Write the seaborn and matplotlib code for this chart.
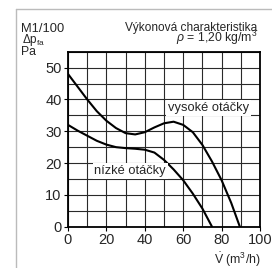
import numpy as np
import pandas as pd
import seaborn as sns
import matplotlib.pyplot as plt
from matplotlib.lines import Line2D

# curve data (flow m3/h, pressure Pa)
flow_high = [0, 5, 10, 15, 20, 25, 30, 35, 40, 45, 50, 55, 60, 65, 70, 75, 80, 85, 89.5]
pres_high = [48, 44, 40, 36.3, 33.3, 31, 29.4, 29, 29.7, 31.2, 32.5, 33, 32, 29.7, 25.7, 20.5, 14.6, 7.5, 0]
flow_low = [0, 5, 10, 15, 20, 25, 30, 35, 40, 45, 50, 55, 60, 65, 70, 75]
pres_low = [32, 30.2, 28.6, 27, 25.8, 25, 24.7, 24.5, 24.2, 23.3, 21, 18, 14.6, 10.4, 5.7, 0]
x_ticks = [0, 20, 40, 60, 80, 100]
y_ticks = [0, 10, 20, 30, 40, 50]

sns.set_style("white")
plt.rcParams['font.family'] = ['Liberation Sans', 'DejaVu Sans']
plt.rcParams['mathtext.fontset'] = 'custom'
plt.rcParams['mathtext.rm'] = 'Liberation Sans'
plt.rcParams['mathtext.it'] = 'Liberation Sans:italic'

df_high = pd.DataFrame({'flow': flow_high, 'pressure': pres_high})
df_low = pd.DataFrame({'flow': flow_low, 'pressure': pres_low})

W, H = 272, 268
fig = plt.figure(figsize=(W / 100, H / 100), dpi=100)
ax = fig.add_axes([68 / W, 1 - 226.7 / H, 192 / W, 175 / H])

sns.lineplot(data=df_high, x='flow', y='pressure', color='black', lw=1.5, ax=ax, zorder=3)
sns.lineplot(data=df_low, x='flow', y='pressure', color='black', lw=1.5, ax=ax, zorder=3)

ax.set_xlim(0, 100)
ax.set_ylim(0, 55)
ax.set_xticks(x_ticks)
ax.set_yticks(y_ticks)
ax.set_xticks(np.arange(0, 101, 10), minor=True)
ax.set_yticks(np.arange(0, 56, 5), minor=True)
ax.grid(which='both', color='#2a2a2a', lw=0.8)
ax.set_axisbelow(True)
for s in ax.spines.values():
    s.set_color('black')
    s.set_linewidth(1.3)
ax.tick_params(which='major', length=3, width=0.8, color='black', labelsize=10.5, pad=1.5,
               direction='out', left=True, bottom=True)
ax.tick_params(which='minor', length=0)
ax.set_xlabel('')
ax.set_ylabel('')

ax.text(52, 37.3, 'vysoké otáčky', fontsize=9.3, ha='left', va='center', zorder=4,
        bbox=dict(facecolor='white', edgecolor='none', pad=1.2))
ax.text(13.8, 17.5, 'nízké otáčky', fontsize=9.3, ha='left', va='center', zorder=4,
        bbox=dict(facecolor='white', edgecolor='none', pad=1.2))

fig.text(21.5 / W, 1 - 31.7 / H, 'M1/100', fontsize=9.3, ha='left', va='baseline')
fig.text(257 / W, 1 - 30.5 / H, 'Výkonová charakteristika', fontsize=8.6, ha='right', va='baseline')
fig.text(257 / W, 1 - 41.7 / H, r'$\rho$ = 1,20 kg/m$^3$', fontsize=8.8, ha='right', va='baseline')
fig.text(21.5 / W, 1 - 43.5 / H, r'$\mathrm{\Delta p_{fa}}$', fontsize=8.5, ha='left', va='baseline')
fig.text(21.5 / W, 1 - 54.5 / H, 'Pa', fontsize=8.8, ha='left', va='baseline')
fig.text(261 / W, 1 - 264 / H, r'$\dot{\mathrm{V}}$ (m$^3$/h)', fontsize=8.8, ha='right', va='baseline')

# light frame around the panel
fig.add_artist(Line2D([16 / W, 16 / W], [0, 1 - 9 / H], color='#bbbbbb', lw=1))
fig.add_artist(Line2D([16 / W, 1], [1 - 9 / H, 1 - 9 / H], color='#bbbbbb', lw=1))

fig.savefig('out.png', dpi=100)
